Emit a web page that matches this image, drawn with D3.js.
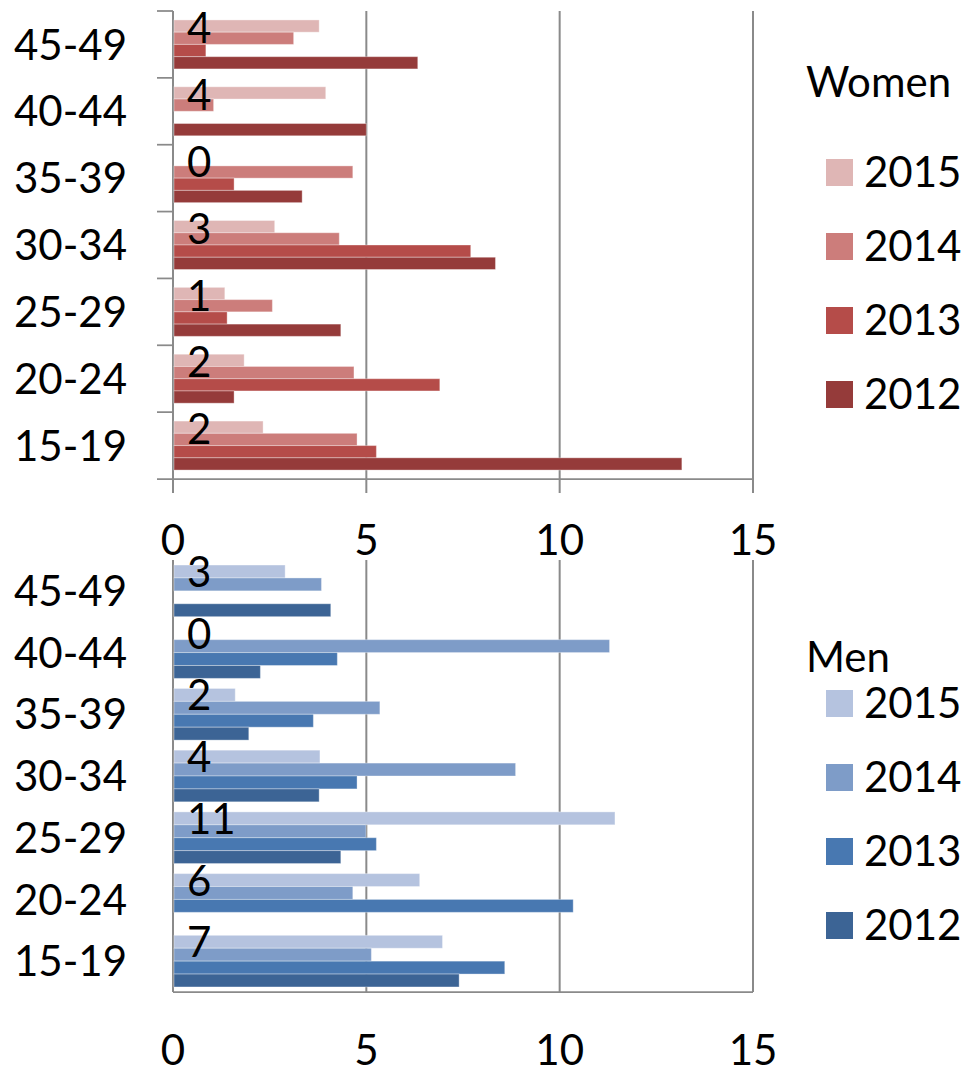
<!DOCTYPE html>
<html lang="en">
<head>
  <meta charset="UTF-8">
  <script src="https://d3js.org/d3.v7.min.js"></script>
  <style>
    body { margin: 0; background: #fff; }
    text { font-family: Lato, "Open Sans", sans-serif; fill: #000; }
  </style>
  <title>Women and Men by age group</title>
</head>
<body>
  <div id="chart"></div>
  <script>
    // age groups, top to bottom
    var ageGroups = ["45-49", "40-44", "35-39", "30-34", "25-29", "20-24", "15-19"];
    var years = ["2015", "2014", "2013", "2012"];
    var xTicks = [0, 5, 10, 15];

    // women, one array per year, same order as ageGroups
    var women2015 = [3.78, 3.95, 0, 2.63, 1.34, 1.84, 2.33];
    var women2014 = [3.12, 1.05, 4.65, 4.30, 2.57, 4.68, 4.76];
    var women2013 = [0.85, 0, 1.58, 7.70, 1.40, 6.90, 5.26];
    var women2012 = [6.33, 5.00, 3.34, 8.34, 4.34, 1.58, 13.16];
    var womenLabels = ["4", "4", "0", "3", "1", "2", "2"];

    // men
    var men2015 = [2.90, 0, 1.61, 3.80, 11.43, 6.38, 6.97];
    var men2014 = [3.84, 11.29, 5.35, 8.86, 4.99, 4.65, 5.13];
    var men2013 = [0, 4.25, 3.63, 4.76, 5.26, 10.35, 8.58];
    var men2012 = [4.08, 2.26, 1.96, 3.78, 4.34, 0, 7.40];
    var menLabels = ["3", "0", "2", "4", "11", "6", "7"];

    var womenColors = ["#dfb6b5", "#cc7d7b", "#b54c49", "#953b3a"];
    var menColors = ["#b5c3df", "#7e9cc8", "#4878b1", "#3c6495"];

    var width = 968, height = 1074;
    var fontSize = 42;

    var svg = d3.select("#chart")
        .append("svg")
        .attr("width", width)
        .attr("height", height);

    var x = d3.scaleLinear().domain([0, 15]).range([173, 753]);

    function panel(opts) {
        var series = opts.series;
        var g = svg.append("g");

        var y = d3.scaleBand()
            .domain(ageGroups)
            .range([opts.top, opts.bottom])
            .padding(0);

        var sub = d3.scaleBand()
            .domain(years)
            .range([0, y.bandwidth()])
            .paddingInner(0)
            .paddingOuter(opts.outer);

        // vertical grid lines
        g.selectAll(".grid")
            .data(xTicks)
            .enter().append("line")
            .attr("x1", function(d) { return x(d); })
            .attr("x2", function(d) { return x(d); })
            .attr("y1", opts.top)
            .attr("y2", opts.bottom + opts.tickDown)
            .attr("stroke", "#8a8a8a")
            .attr("stroke-width", 2);

        // bottom axis line
        g.append("line")
            .attr("x1", opts.leftTicks ? 157 : x(0))
            .attr("x2", x(15))
            .attr("y1", opts.bottom)
            .attr("y2", opts.bottom)
            .attr("stroke", "#8a8a8a")
            .attr("stroke-width", 1.75);

        // category boundary ticks on the left
        if (opts.leftTicks) {
            var bounds = ageGroups.map(function(c) { return y(c); });
            g.selectAll(".ytick")
                .data(bounds)
                .enter().append("line")
                .attr("x1", 157)
                .attr("x2", x(0))
                .attr("y1", function(d) { return d; })
                .attr("y2", function(d) { return d; })
                .attr("stroke", "#8a8a8a")
                .attr("stroke-width", 1.75);
        }

        // bars
        years.forEach(function(yr, k) {
            g.selectAll(".bar" + yr)
                .data(series[k])
                .enter().append("rect")
                .attr("x", x(0) + 1)
                .attr("y", function(d, i) { return y(ageGroups[i]) + sub(yr); })
                .attr("width", function(d) { return d > 0 ? x(d) - x(0) - 1 : 0; })
                .attr("height", sub.bandwidth())
                .attr("fill", opts.colors[k])
                .attr("stroke", "rgba(255,255,255,0.35)")
                .attr("stroke-width", 1);
        });

        // data labels
        g.selectAll(".dlabel")
            .data(opts.labels)
            .enter().append("text")
            .attr("x", 187)
            .attr("y", function(d, i) {
                return y(ageGroups[i]) + sub("2015") + sub.bandwidth() + opts.labelDy;
            })
            .attr("font-size", fontSize)
            .text(function(d) { return d; });

        // category labels
        g.selectAll(".ylabel")
            .data(ageGroups)
            .enter().append("text")
            .attr("x", 127)
            .attr("y", function(d) { return y(d) + y.bandwidth() / 2; })
            .attr("dy", "0.36em")
            .attr("text-anchor", "end")
            .attr("font-size", fontSize)
            .text(function(d) { return d; });

        // x tick labels
        g.selectAll(".xlabel")
            .data(xTicks)
            .enter().append("text")
            .attr("x", function(d) { return x(d); })
            .attr("y", opts.bottom + opts.xLabelDy)
            .attr("text-anchor", "middle")
            .attr("font-size", fontSize)
            .text(function(d) { return d; });

        // legend
        g.append("text")
            .attr("x", 806)
            .attr("y", opts.legendTitleY)
            .attr("font-size", fontSize)
            .text(opts.title);

        years.forEach(function(yr, k) {
            var top = opts.legendTop + k * 74;
            g.append("rect")
                .attr("x", 826)
                .attr("y", top)
                .attr("width", 27)
                .attr("height", 27)
                .attr("fill", opts.colors[k]);
            g.append("text")
                .attr("x", 864)
                .attr("y", top + 28)
                .attr("font-size", fontSize)
                .text(yr);
        });
    }

    panel({
        series: [women2015, women2014, women2013, women2012],
        labels: womenLabels,
        colors: womenColors,
        top: 11, bottom: 479, outer: 0.73,
        tickDown: 14, leftTicks: true, labelDy: 11, xLabelDy: 76,
        title: "Women", legendTitleY: 97, legendTop: 159
    });

    panel({
        series: [men2015, men2014, men2013, men2012],
        labels: menLabels,
        colors: menColors,
        top: 560, bottom: 992, outer: 0.39,
        tickDown: 0, leftTicks: false, labelDy: 9, xLabelDy: 73,
        title: "Men", legendTitleY: 672, legendTop: 690
    });
  </script>
</body>
</html>
